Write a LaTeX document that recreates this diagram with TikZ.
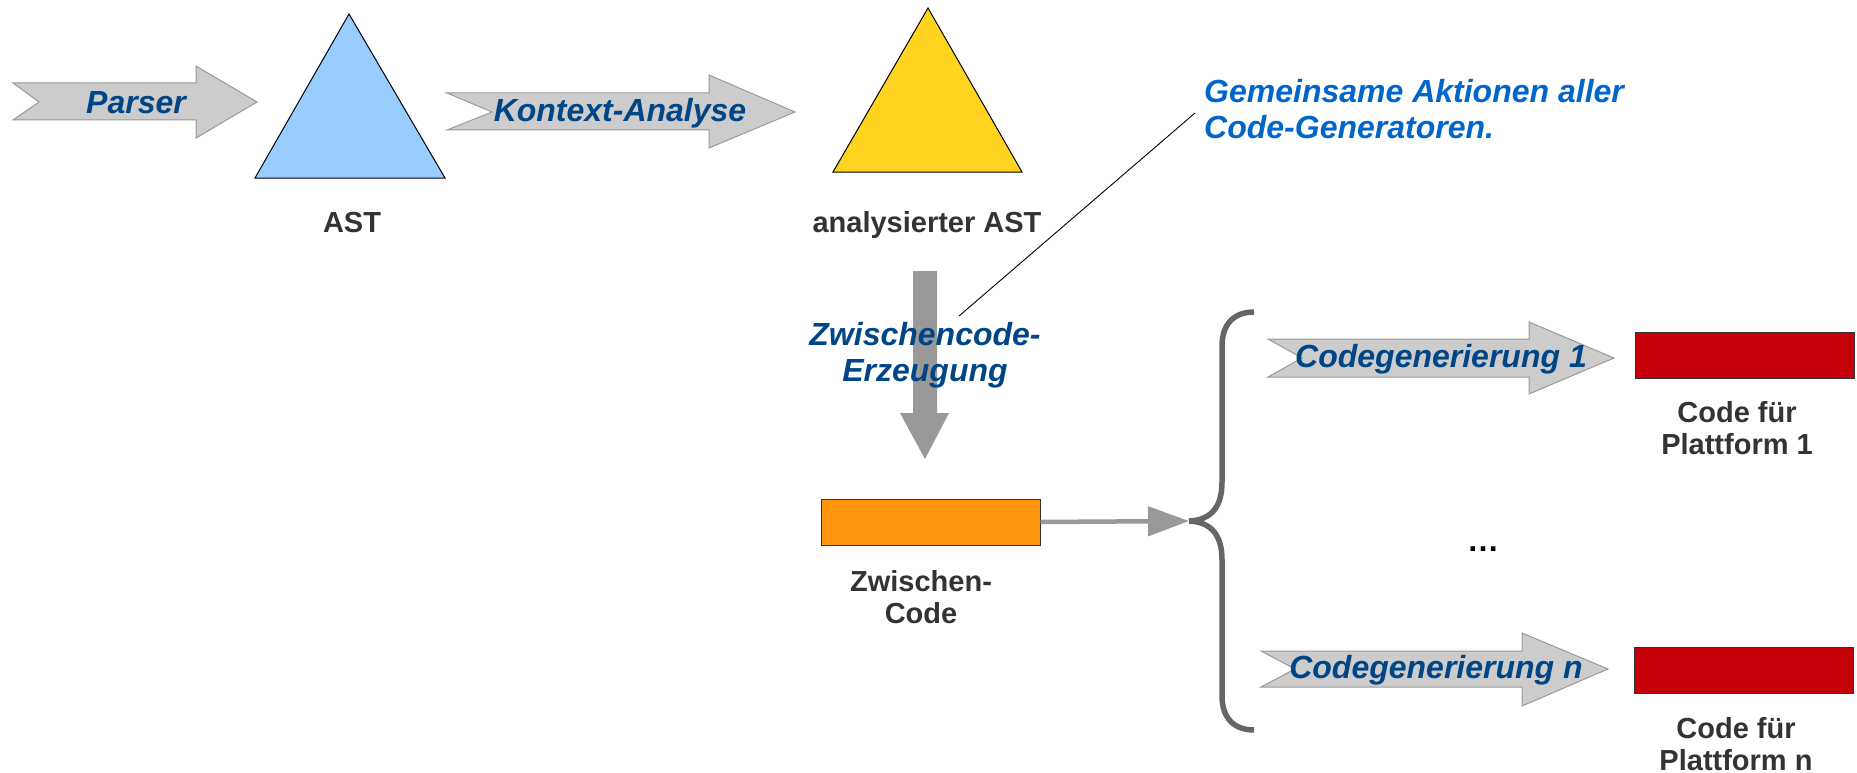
\documentclass[tikz,border=0pt]{standalone}
\usepackage{fontspec}
\setmainfont{Liberation Sans}
\usetikzlibrary{arrows.meta}
\definecolor{arrowfill}{HTML}{CCCCCC}
\definecolor{arrowdraw}{HTML}{999999}
\definecolor{labelblue}{HTML}{004586}
\definecolor{noteblue}{HTML}{0066CC}
\definecolor{capgray}{HTML}{333333}
\definecolor{skyblue}{HTML}{99CCFF}
\definecolor{sunyellow}{HTML}{FFD320}
\definecolor{codeorange}{HTML}{FF950E}
\definecolor{codered}{HTML}{C5000B}
\definecolor{darkarrow}{HTML}{999999}
\definecolor{bracegray}{HTML}{666666}
\tikzset{
  blockarrow/.style={fill=arrowfill, draw=arrowdraw, line width=1pt, line join=miter},
  tri/.style={draw=black, line width=1pt},
  arrowlabel/.style={font=\bfseries\itshape\fontsize{32}{36}\selectfont, text=labelblue, align=center, inner sep=0pt},
  notelabel/.style={font=\bfseries\itshape\fontsize{32}{36}\selectfont, text=noteblue, align=left, inner sep=0pt},
  caption/.style={font=\bfseries\fontsize{29}{32.5}\selectfont, text=capgray, align=center, inner sep=0pt},
  codebox/.style={draw=black!80, line width=1pt, minimum width=219pt, minimum height=46pt, inner sep=0pt},
}
\begin{document}
\begin{tikzpicture}[x=1pt,y=-1pt]
\useasboundingbox (0,0) rectangle (1857,773);

% block arrows
\path[blockarrow] (13,83) -- (196,83) -- (196,66) -- (257,102) -- (196,138) -- (196,120) -- (13,120) -- (39,102) -- cycle;
\path[blockarrow] (447,93) -- (709,93) -- (709,75) -- (795,112) -- (709,148) -- (709,130) -- (447,130) -- (492,112) -- cycle;
\path[blockarrow] (1268,339) -- (1529,339) -- (1529,322) -- (1614,358) -- (1529,394) -- (1529,377) -- (1268,377) -- (1302,358) -- cycle;
\path[blockarrow] (1261,651) -- (1522,651) -- (1522,633) -- (1608,669) -- (1522,706) -- (1522,687) -- (1261,687) -- (1295,669) -- cycle;

% down arrow
\fill[darkarrow] (913,271) -- (937,271) -- (937,413) -- (949,413) -- (925,459) -- (900,413) -- (913,413) -- cycle;

% triangles
\filldraw[tri, fill=skyblue] (349,14) -- (255,178) -- (445,178) -- cycle;
\filldraw[tri, fill=sunyellow] (928,8) -- (833,172) -- (1022,172) -- cycle;

% boxes
\node[codebox, fill=codeorange] (zc) at (930.5,522) {};
\node[codebox, fill=codered] (p1) at (1745,355) {};
\node[codebox, fill=codered] (pn) at (1743.5,670) {};

% brace
\coordinate (bp) at (1189,521);
\draw[bracegray, line width=5.5pt, line cap=butt]
  (1254,312) .. controls (1234,312) and (1222,324) .. (1222,346)
  -- (1222,482) .. controls (1222,506) and (1212,520) .. (bp)
  .. controls (1212,522) and (1222,536) .. (1222,560)
  -- (1222,696) .. controls (1222,718) and (1234,730) .. (1254,730);

% connector from intermediate code to brace
\draw[darkarrow, line width=4.5pt, -{Triangle[length=41pt,width=29pt]}] (zc.east) -- (bp);

% labels
\node[arrowlabel] (parser) at (136,103) {Parser};
\node[arrowlabel] (kontext) at (620,113) {Kontext-Analyse};
\node[arrowlabel] (cg1) at (1441,359) {Codegenerierung 1};
\node[arrowlabel] (cgn) at (1436,670) {Codegenerierung n};
\node[arrowlabel] (zwe) at (925,355) {Zwischencode-\\Erzeugung};

\node[caption] (ast) at (352,223) {AST};
\node[caption] (aast) at (927,225) {analysierter AST};
\node[caption] (zwc) at (921,597) {Zwischen-\\Code};
\node[caption] (cf1) at (1737,428) {Code für\\Plattform 1};
\node[caption] (cfn) at (1736,744) {Code für\\Plattform n};
\node[font=\bfseries\fontsize{32}{36}\selectfont, text=black, inner sep=0pt] (dots) at (1483,549) {…};

% note
\node[notelabel, anchor=west] (note) at (1204,109) {Gemeinsame Aktionen aller\\Code-Generatoren.};
\coordinate (noteend) at (1195,113);
\coordinate (notetip) at (959,316);
\draw[black, line width=0.9pt] (noteend) -- (notetip);
\end{tikzpicture}
\end{document}
